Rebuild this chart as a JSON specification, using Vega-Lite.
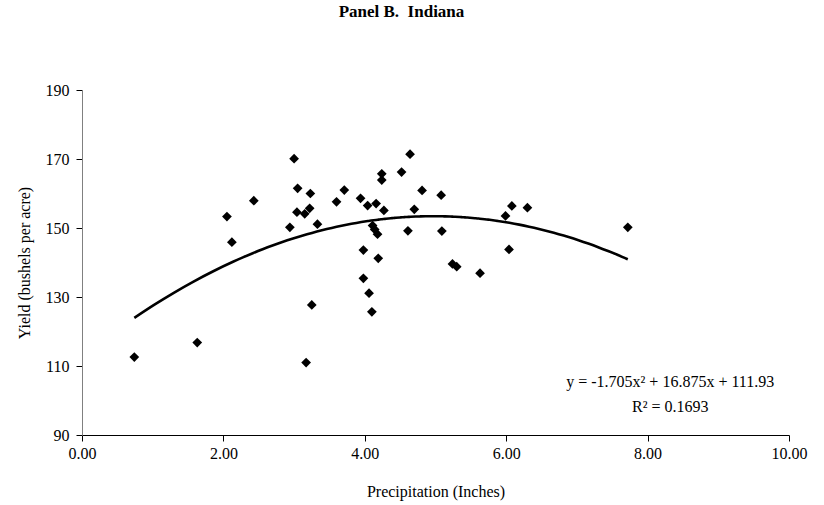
{
  "$schema": "https://vega.github.io/schema/vega-lite/v6.json",
  "width": 707,
  "height": 345,
  "autosize": {"type": "none"},
  "padding": {"left": 82, "top": 90, "right": 35, "bottom": 70},
  "background": "white",
  "config": {
    "font": "Liberation Serif",
    "view": {"stroke": null},
    "axis": {
      "grid": false,
      "labelFont": "Liberation Serif",
      "labelFontSize": 16,
      "labelColor": "black",
      "labelFlush": false,
      "titleFont": "Liberation Serif",
      "titleFontSize": 16,
      "titleFontWeight": "normal",
      "titleColor": "black",
      "tickSize": 6,
      "tickColor": "black",
      "domainColor": "black"
    }
  },
  "title": {
    "text": "Panel B.\u00a0 Indiana",
    "font": "Liberation Serif",
    "fontSize": 17,
    "fontWeight": "bold",
    "color": "black",
    "anchor": "middle",
    "offset": 61,
    "dx": -34
  },
  "datasets": {
    "obs": [
      {"precip": 0.74, "yield": 112.6},
      {"precip": 1.63, "yield": 116.8},
      {"precip": 2.05, "yield": 153.3},
      {"precip": 2.12, "yield": 145.9},
      {"precip": 2.43, "yield": 157.9},
      {"precip": 2.94, "yield": 150.2},
      {"precip": 3.00, "yield": 170.1},
      {"precip": 3.04, "yield": 154.6},
      {"precip": 3.05, "yield": 161.5},
      {"precip": 3.15, "yield": 154.1},
      {"precip": 3.17, "yield": 111.0},
      {"precip": 3.22, "yield": 155.7},
      {"precip": 3.23, "yield": 160.0},
      {"precip": 3.25, "yield": 127.7},
      {"precip": 3.33, "yield": 151.1},
      {"precip": 3.60, "yield": 157.6},
      {"precip": 3.71, "yield": 161.0},
      {"precip": 3.94, "yield": 158.6},
      {"precip": 3.98, "yield": 143.6},
      {"precip": 3.98, "yield": 135.4},
      {"precip": 4.04, "yield": 156.5},
      {"precip": 4.06, "yield": 131.1},
      {"precip": 4.10, "yield": 125.7},
      {"precip": 4.11, "yield": 150.7},
      {"precip": 4.14, "yield": 149.6},
      {"precip": 4.16, "yield": 157.1},
      {"precip": 4.18, "yield": 148.2},
      {"precip": 4.19, "yield": 141.2},
      {"precip": 4.24, "yield": 165.7},
      {"precip": 4.24, "yield": 163.9},
      {"precip": 4.27, "yield": 155.1},
      {"precip": 4.52, "yield": 166.2},
      {"precip": 4.61, "yield": 149.2},
      {"precip": 4.64, "yield": 171.4},
      {"precip": 4.70, "yield": 155.4},
      {"precip": 4.81, "yield": 160.9},
      {"precip": 5.08, "yield": 159.5},
      {"precip": 5.09, "yield": 149.1},
      {"precip": 5.24, "yield": 139.6},
      {"precip": 5.30, "yield": 138.8},
      {"precip": 5.63, "yield": 136.9},
      {"precip": 5.99, "yield": 153.5},
      {"precip": 6.04, "yield": 143.8},
      {"precip": 6.08, "yield": 156.4},
      {"precip": 6.30, "yield": 155.9},
      {"precip": 7.72, "yield": 150.2}
    ],
    "eq": [
      {"precip": 8.32, "yield": 104.0, "label": "y = -1.705x² + 16.875x + 111.93"},
      {"precip": 8.32, "yield": 96.8, "label": "R² = 0.1693"}
    ]
  },
  "layer": [
    {
      "data": {"name": "obs"},
      "mark": {"type": "point", "shape": "diamond", "filled": true, "size": 95, "color": "black", "opacity": 1},
      "encoding": {
        "x": {
          "field": "precip", "type": "quantitative",
          "scale": {"domain": [0, 10], "nice": false, "zero": false},
          "axis": {"values": [0, 2, 4, 6, 8, 10], "format": ".2f", "title": "Precipitation (Inches)", "labelPadding": 4, "titlePadding": 22}
        },
        "y": {
          "field": "yield", "type": "quantitative",
          "scale": {"domain": [90, 190], "nice": false, "zero": false},
          "axis": {"values": [90, 110, 130, 150, 170, 190], "title": "Yield (bushels per acre)", "domainColor": "#808080", "labelPadding": 7, "titlePadding": 13}
        }
      }
    },
    {
      "data": {"name": "obs"},
      "transform": [
        {"regression": "yield", "on": "precip", "method": "poly", "order": 2}
      ],
      "mark": {"type": "line", "color": "black", "strokeWidth": 2.6, "interpolate": "monotone"},
      "encoding": {
        "x": {"field": "precip", "type": "quantitative"},
        "y": {"field": "yield", "type": "quantitative"}
      }
    },
    {
      "data": {"name": "eq"},
      "mark": {"type": "text", "font": "Liberation Serif", "fontSize": 16, "color": "black", "align": "center", "baseline": "alphabetic"},
      "encoding": {
        "x": {"field": "precip", "type": "quantitative"},
        "y": {"field": "yield", "type": "quantitative"},
        "text": {"field": "label"}
      }
    }
  ]
}
